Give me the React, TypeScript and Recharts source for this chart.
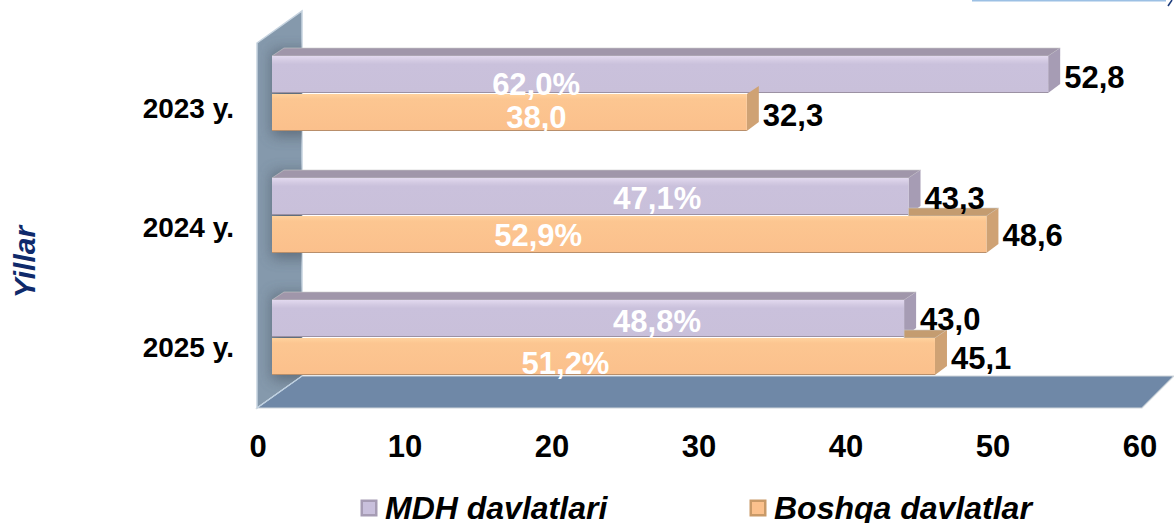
import React from "react";
import { BarChart, Bar, XAxis, YAxis, Legend, LabelList } from "recharts";

const categories = ["2023 y.", "2024 y.", "2025 y."];
const mdhValues = [52.8, 43.3, 43.0];
const boshqaValues = [32.3, 48.6, 45.1];
const mdhShares = ["62,0%", "47,1%", "48,8%"];
const boshqaShares = ["38,0", "52,9%", "51,2%"];
const xTicks = [0, 10, 20, 30, 40, 50, 60];

const data = categories.map((name, i) => ({
  name,
  mdh: mdhValues[i],
  boshqa: boshqaValues[i],
  mdhShare: mdhShares[i],
  boshqaShare: boshqaShares[i],
}));

// Layout of the hand-placed labels and the 3D look
const FONT = '"Liberation Sans", Arial, sans-serif';
const BAR_SHIFT = 14;
const DX = 12;
const DY = 8;
const mdhShareShift = [[-124, 10], [67, 2], [69, 3]];
const boshqaShareShift = [[27, 5], [-91, 1], [-38, 7]];
const mdhValueDy = [3, 2, 1];
const boshqaValueDy = [3, 1, 2];

const purple = { top: "#a096aa", side: "#a69cb4", id: "purpleFront" };
const orange = { top: "#c49c70", side: "#cfa274", id: "orangeFront" };

function Bar3D(props: any) {
  const { x, y, width, height, index, c, clipTo } = props;
  const fx = x + BAR_SHIFT;
  const r = fx + width;
  const b = y + height;
  const topStart = clipTo ? fx + Math.min(width, width * (mdhValues[index] / boshqaValues[index])) : fx;
  const showTop = !clipTo || topStart < r;
  return (
    <g>
      {showTop && (
        <polygon
          points={`${topStart},${y} ${clipTo ? topStart : fx + DX},${y - DY} ${r + DX},${y - DY} ${r},${y}`}
          fill={c.top}
          stroke="#c9c9c9"
          strokeWidth={0.6}
        />
      )}
      <polygon points={`${r},${y} ${r + DX},${y - DY} ${r + DX},${b - DY - 1} ${r},${b}`} fill={c.side} />
      <rect x={fx} y={y} width={width} height={height} fill={`url(#${c.id})`} />
    </g>
  );
}

const valueLabel = (dys: number[]) => (props: any) => {
  const { x, y, width, height, value, index } = props;
  return (
    <text
      x={x + BAR_SHIFT + width + DX + 4}
      y={y + height / 2 + dys[index]}
      dominantBaseline="central"
      fontFamily={FONT}
      fontWeight="bold"
      fontSize={31}
      fill="#000"
    >
      {String(Number(value).toFixed(1)).replace(".", ",")}
    </text>
  );
};

const shareLabel = (shift: number[][]) => (props: any) => {
  const { x, y, width, height, value, index } = props;
  return (
    <text
      x={x + BAR_SHIFT + width / 2 + shift[index][0]}
      y={y + height / 2 + shift[index][1]}
      textAnchor="middle"
      dominantBaseline="central"
      fontFamily={FONT}
      fontWeight="bold"
      fontSize={31}
      fill="#fff"
    >
      {value}
    </text>
  );
};

function CategoryTick(props: any) {
  const { y, payload, index } = props;
  const tweak = [15, 12, 10][index] ?? 12;
  return (
    <text x={234} y={y + tweak} textAnchor="end" dominantBaseline="central" fontFamily={FONT} fontWeight="bold" fontSize={28} fill="#000">
      {payload.value}
    </text>
  );
}

function ValueTick(props: any) {
  const { x, payload } = props;
  return (
    <text x={x} y={446} textAnchor="middle" dominantBaseline="central" fontFamily={FONT} fontWeight="bold" fontSize={31} fill="#000">
      {payload.value}
    </text>
  );
}

function AxisTitle() {
  return (
    <text transform="translate(24,262) rotate(-90)" textAnchor="middle" dominantBaseline="central" fontFamily={FONT} fontWeight="bold" fontStyle="italic" fontSize={30} fill="#0f2a6b">
      Yillar
    </text>
  );
}

const legendLeft = [360, 749];
function LegendContent(props: any) {
  const items = props.payload || [];
  return (
    <div style={{ position: "relative", width: 1174, height: 40 }}>
      {items.map((it: any, i: number) => (
        <div key={it.value} style={{ position: "absolute", left: legendLeft[i], top: 0, display: "flex", alignItems: "center", whiteSpace: "nowrap" }}>
          <svg width={18} height={18} style={{ marginRight: 7 }}>
            <rect x={0.5} y={0.5} width={17} height={17} fill={i === 0 ? "#a69cb4" : "#c99a68"} />
            <rect x={3} y={3} width={12} height={12} fill={it.color} />
          </svg>
          <span style={{ fontFamily: FONT, fontWeight: "bold", fontStyle: "italic", fontSize: 32, color: "#000", lineHeight: "36px" }}>{it.value}</span>
        </div>
      ))}
    </div>
  );
}

function Backdrop() {
  return (
    <svg width={1174} height={523} style={{ position: "absolute", left: 0, top: 0 }}>
      <defs>
        <linearGradient id="purpleFront" x1="0" y1="0" x2="0" y2="1">
          <stop offset="0" stopColor="#e2d9ef" />
          <stop offset="0.12" stopColor="#d4cbe3" />
          <stop offset="0.22" stopColor="#cac1dc" />
          <stop offset="0.96" stopColor="#c9c0da" />
          <stop offset="1" stopColor="#857a88" />
        </linearGradient>
        <linearGradient id="orangeFront" x1="0" y1="0" x2="0" y2="1">
          <stop offset="0" stopColor="#ffd29e" />
          <stop offset="0.14" stopColor="#fcc691" />
          <stop offset="0.96" stopColor="#fbc08c" />
          <stop offset="1" stopColor="#96755a" />
        </linearGradient>
        <filter id="blur6" x="-50%" y="-50%" width="200%" height="200%">
          <feGaussianBlur stdDeviation="7" />
        </filter>
        <clipPath id="wallClip">
          <polygon points="257,43 302,11 302,376 257,408" />
        </clipPath>
      </defs>
      <polygon points="257,43 302,11 302,376 257,408" fill="#8599ac" stroke="#c6d3df" strokeWidth={1.5} />
      <g clipPath="url(#wallClip)" fill="#4f5c69" opacity={0.7}>
        <rect x={272} y={50} width={40} height={86} filter="url(#blur6)" />
        <rect x={272} y={172} width={40} height={86} filter="url(#blur6)" />
        <rect x={272} y={294} width={40} height={86} filter="url(#blur6)" />
      </g>
      <polygon points="302,376 1174,376 1142,408 257,408" fill="#6f88a7" stroke="#cfd6dc" strokeWidth={1.2} />
      <line x1={257} y1={408} x2={302} y2={376} stroke="#b9d0e6" strokeWidth={1} />
      <rect x={972} y={0} width={194} height={1.5} fill="#9cc0e4" />
      <line x1={1168} y1={6} x2={1172} y2={0} stroke="#1a3a7a" strokeWidth={1.5} />
    </svg>
  );
}

export default function App() {
  return (
    <div style={{ position: "absolute", left: 0, top: 0, width: 1174, height: 523, overflow: "hidden" }}>
      <Backdrop />
      <div style={{ position: "absolute", left: 0, top: 0 }}>
        <BarChart
          width={1174}
          height={523}
          data={data}
          layout="vertical"
          margin={{ top: 32, right: 34, bottom: 65, left: 0 }}
          barSize={37}
          barGap={1}
        >
          <XAxis type="number" domain={[0, 60]} ticks={xTicks} height={60} axisLine={false} tickLine={false} tick={<ValueTick />} interval={0} />
          <YAxis type="category" dataKey="name" width={258} axisLine={false} tickLine={false} tick={<CategoryTick />} interval={0} />
          <Legend layout="horizontal" verticalAlign="middle" align="center" itemSorter={null} content={<LegendContent />} wrapperStyle={{ left: 0, top: 490, width: 1174 }} />
          <Bar dataKey="mdh" name="MDH davlatlari" fill="#c9c0dc" isAnimationActive={false} shape={(p: any) => <Bar3D {...p} c={purple} />}>
            <LabelList dataKey="mdh" content={valueLabel(mdhValueDy)} />
            <LabelList dataKey="mdhShare" content={shareLabel(mdhShareShift)} />
          </Bar>
          <Bar dataKey="boshqa" name="Boshqa davlatlar" fill="#fbc18d" isAnimationActive={false} shape={(p: any) => <Bar3D {...p} c={orange} clipTo />}>
            <LabelList dataKey="boshqa" content={valueLabel(boshqaValueDy)} />
            <LabelList dataKey="boshqaShare" content={shareLabel(boshqaShareShift)} />
          </Bar>
          <AxisTitle />
        </BarChart>
      </div>
    </div>
  );
}
